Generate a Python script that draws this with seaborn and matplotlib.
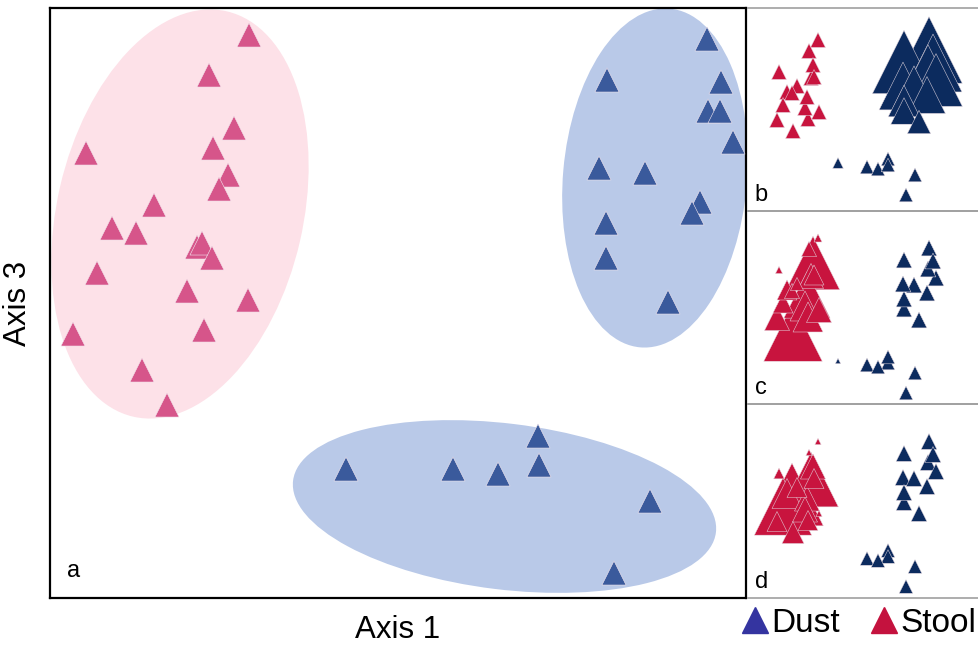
import numpy as np
import pandas as pd
import matplotlib
matplotlib.use("Agg")
import matplotlib.pyplot as plt
from matplotlib.patches import Ellipse
from matplotlib.lines import Line2D
import seaborn as sns

# panel a: ordination scores (Axis 1, Axis 3)
stool_x = [-0.149, -0.189, -0.164, -0.312, -0.185, -0.170, -0.179, -0.244, -0.286, -0.262,
           -0.201, -0.196, -0.186, -0.301, -0.211, -0.150, -0.325, -0.194, -0.256, -0.231]
stool_y = [0.268, 0.228, 0.175, 0.150, 0.155, 0.128, 0.114, 0.098, 0.075, 0.070,
           0.056, 0.060, 0.045, 0.030, 0.012, 0.003, -0.031, -0.027, -0.067, -0.102]
dust_x = [0.309, 0.209, 0.323, 0.310, 0.322, 0.335, 0.201, 0.247, 0.302, 0.294, 0.208, 0.208, 0.270,
          -0.052, 0.055, 0.100, 0.140, 0.141, 0.252, 0.216]
dust_y = [0.264, 0.223, 0.221, 0.192, 0.192, 0.161, 0.135, 0.130, 0.101, 0.090, 0.080, 0.045, 0.001,
          -0.166, -0.166, -0.171, -0.133, -0.162, -0.198, -0.270]

# confidence ellipses: centre x, centre y, width, height, angle
ellipses = {
    "stool": (-0.218, 0.089, 0.246, 0.416, -13),
    "dust_upper": (0.257, 0.125, 0.184, 0.340, -5),
    "dust_lower": (0.1065, -0.2035, 0.426, 0.166, -7),
}

# panels b-d: smaller ordination with taxon abundance as marker size
small_stool_x = [-45.5, -54.5, -84.5, -50.5, -52.5, -49.5, -66.5, -76.5, -71.5, -56.5,
                 -80.5, -58.5, -44.5, -86.5, -55.5, -70.5]
small_stool_y = {
    "b": [69.5, 58.5, 37.5, 44.5, 31.5, 32.5, 23.5, 17.5, 16.5, 12.5,
          4.5, 1.5, -2.5, -10.5, -9.5, -21.5],
    "c": [69.5, 58.5, 37.5, 44.5, 31.5, 32.5, 23.5, 17.5, 16.5, 12.5,
          4.5, 1.5, -2.5, -10.5, -9.5, -24.5],
    "d": [59.5, 48.5, 27.5, 34.5, 21.5, 22.5, 13.5, 7.5, 6.5, 2.5,
          -5.5, -8.5, -12.5, -20.5, -19.5, -31.5],
}
small_dust_x = [65.5, 40.5, 69.5, 64.5, 72.5, 39.5, 50.5, 63.5, 40.5, 40.5, 55.5,
                3.5, 14.5, 24.5, 24.5, 51.5, 42.5, -25.5]
small_dust_y = [59.5, 47.5, 46.5, 38.5, 29.5, 23.5, 22.5, 14.5, 8.5, -1.5, -12.5,
                -57.5, -59.5, -49.5, -55.5, -65.5, -85.5, -53.5]

abund_stool = {
    "b": [3.1, 3.1, 3.1, 3.1, 3.1, 3.1, 3.1, 3.1, 3.1, 3.1, 3.1, 3.1, 3.1, 3.1, 3.1, 3.1],
    "c": [0.9, 3.2, 0.7, 40.0, 8.8, 5.6, 2.4, 5.6, 3.2, 30.0, 5.6, 12.6, 8.8, 8.8, 12.6, 48.0],
    "d": [0.55, 0.55, 1.6, 8.8, 42.0, 5.6, 5.6, 12.6, 55.0, 8.8, 46.0, 8.8, 0.55, 5.6, 5.6, 6.8],
}
abund_dust = {
    "b": [62.0, 56.0, 47.0, 39.0, 39.0, 32.0, 25.0, 19.0, 14.0, 9.8, 7.6,
          2.6, 2.6, 2.6, 2.6, 2.6, 2.6, 1.6],
    "c": [3.5, 3.5, 3.5, 3.5, 3.5, 3.5, 3.5, 3.5, 3.5, 3.5, 3.5,
          2.6, 2.6, 2.6, 2.6, 2.6, 2.6, 0.4],
    "d": [3.5, 3.5, 3.5, 3.5, 3.5, 3.5, 3.5, 3.5, 3.5, 3.5, 3.5,
          2.6, 2.6, 2.6, 2.6, 2.6, 2.6, 0.0],
}

sns.set_theme(style="white")
plt.rcParams["font.family"] = ["Liberation Sans", "DejaVu Sans"]
plt.rcParams["text.color"] = "black"
plt.rcParams["axes.labelcolor"] = "black"

fig = plt.figure(figsize=(9.79, 6.49), dpi=100)

# ---- panel a
ax = fig.add_axes([50 / 979, 51 / 649, 696 / 979, 590 / 649])
for key, (cx, cy, w, h, ang) in ellipses.items():
    col = "#fde1e8" if key == "stool" else "#b9c9e8"
    ax.add_patch(Ellipse((cx, cy), w, h, angle=ang, facecolor=col, edgecolor="none", zorder=1))

df_a = pd.DataFrame({
    "x": stool_x + dust_x,
    "y": stool_y + dust_y,
    "group": ["Stool"] * len(stool_x) + ["Dust"] * len(dust_x),
})
sns.scatterplot(data=df_a, x="x", y="y", hue="group", marker="^", s=300,
                palette={"Stool": "#d6558a", "Dust": "#3a5a9c"},
                edgecolor="#f3e6ee", linewidth=0.4, legend=False, ax=ax, zorder=3)
ax.set_xlim(-0.348, 0.348)
ax.set_ylim(-0.295, 0.295)
ax.set_xticks([])
ax.set_yticks([])
ax.set_xlabel("Axis 1", fontsize=22.5, labelpad=12)
ax.set_ylabel("Axis 3", fontsize=22.5, labelpad=12)
for sp in ax.spines.values():
    sp.set_visible(True)
    sp.set_color("black")
    sp.set_linewidth(1.6)
ax.text(0.025, 0.035, "a", transform=ax.transAxes, fontsize=17)

# ---- panels b, c, d
panel_box = {"b": (438, 203), "c": (245, 193), "d": (51, 194)}
for name, (bottom, height) in panel_box.items():
    sax = fig.add_axes([748 / 979, bottom / 649, 231 / 979, height / 649])
    df = pd.DataFrame({
        "x": small_stool_x + small_dust_x,
        "y": small_stool_y[name] + small_dust_y,
        "group": ["Stool"] * len(small_stool_x) + ["Dust"] * len(small_dust_x),
        "abund": abund_stool[name] + abund_dust[name],
    })
    df = df[df["abund"] > 0].sort_values("abund", ascending=False)
    sns.scatterplot(data=df, x="x", y="y", hue="group", size="abund",
                    sizes=(0, 3700), size_norm=(0, 100), marker="^",
                    palette={"Stool": "#c8143e", "Dust": "#0c2b5e"},
                    edgecolor="#e4d8e0", linewidth=0.35, legend=False, ax=sax)
    sax.set_xlim(-115.5, 115.5)
    sax.set_ylim(-height / 2, height / 2)
    sax.set_xticks([])
    sax.set_yticks([])
    sax.set_xlabel("")
    sax.set_ylabel("")
    for side in ["left", "right"]:
        sax.spines[side].set_visible(False)
    for side in ["top", "bottom"]:
        sax.spines[side].set_visible(True)
        sax.spines[side].set_color("#a0a0a0")
        sax.spines[side].set_linewidth(1.2)
    sax.text(0.03, 0.05, name, transform=sax.transAxes, fontsize=17)
    sax.patch.set_alpha(0)

handles = [
    Line2D([], [], marker="^", linestyle="none", markersize=19, color="#3434a0"),
    Line2D([], [], marker="^", linestyle="none", markersize=19, color="#c4123e"),
]
fig.legend(handles, ["Dust", "Stool"], loc="center", bbox_to_anchor=(859 / 979, 1 - 623 / 649),
           ncol=2, frameon=False, fontsize=24, handlelength=0.8, handletextpad=0.1,
           columnspacing=0.9, borderpad=0)

fig.savefig("out.png", dpi=100)
